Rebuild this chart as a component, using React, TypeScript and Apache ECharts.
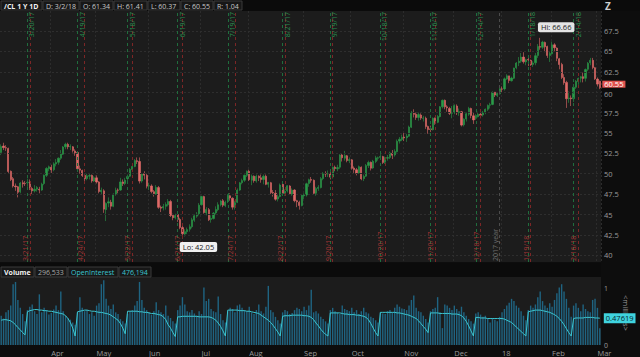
import React, { useEffect, useRef } from "react";
import * as echarts from "echarts";

// ---- data -------------------------------------------------------------
const MONTH_DAYS: [number, number, number[]][] = [
  [2017, 3, [3, 6, 7, 8, 9, 10, 13, 14, 15, 16, 17, 20, 21, 22, 23, 24, 27, 28, 29, 30, 31]],
  [2017, 4, [3, 4, 5, 6, 7, 10, 11, 12, 13, 17, 18, 19, 20, 21, 24, 25, 26, 27, 28]],
  [2017, 5, [1, 2, 3, 4, 5, 8, 9, 10, 11, 12, 15, 16, 17, 18, 19, 22, 23, 24, 25, 26, 30, 31]],
  [2017, 6, [1, 2, 5, 6, 7, 8, 9, 12, 13, 14, 15, 16, 19, 20, 21, 22, 23, 26, 27, 28, 29, 30]],
  [2017, 7, [3, 5, 6, 7, 10, 11, 12, 13, 14, 17, 18, 19, 20, 21, 24, 25, 26, 27, 28, 31]],
  [2017, 8, [1, 2, 3, 4, 7, 8, 9, 10, 11, 14, 15, 16, 17, 18, 21, 22, 23, 24, 25, 28, 29, 30, 31]],
  [2017, 9, [1, 5, 6, 7, 8, 11, 12, 13, 14, 15, 18, 19, 20, 21, 22, 25, 26, 27, 28, 29]],
  [2017, 10, [2, 3, 4, 5, 6, 9, 10, 11, 12, 13, 16, 17, 18, 19, 20, 23, 24, 25, 26, 27, 30, 31]],
  [2017, 11, [1, 2, 3, 6, 7, 8, 9, 10, 13, 14, 15, 16, 17, 20, 21, 22, 24, 27, 28, 29, 30]],
  [2017, 12, [1, 4, 5, 6, 7, 8, 11, 12, 13, 14, 15, 18, 19, 20, 21, 22, 26, 27, 28, 29]],
  [2018, 1, [2, 3, 4, 5, 8, 9, 10, 11, 12, 16, 17, 18, 19, 22, 23, 24, 25, 26, 29, 30, 31]],
  [2018, 2, [1, 2, 5, 6, 7, 8, 9, 12, 13, 14, 15, 16, 20, 21, 22, 23, 26, 27, 28]],
  [2018, 3, [1, 2]],
];

// [open, close, low, high]
const OHLC: number[][] = [
  // Mar 2017
  [52.6, 53.33, 52.3, 53.6], [53.4, 53.2, 52.9, 53.8], [53.2, 53.14, 52.8, 53.5], [53.1, 50.28, 50.1, 53.2],
  [50.3, 49.28, 49.1, 50.4], [49.4, 48.49, 48.3, 49.6], [48.5, 48.4, 47.9, 48.8], [48.4, 47.72, 47.1, 48.5],
  [47.8, 48.86, 47.6, 49.0], [48.9, 48.75, 48.3, 49.2], [48.8, 48.78, 48.5, 49.1], [48.9, 48.95, 48.4, 49.4],
  [49.0, 48.24, 48.0, 49.3], [48.2, 47.9, 47.5, 48.4], [47.9, 48.1, 47.7, 48.6], [48.1, 48.3, 47.8, 48.5],
  [48.1, 48.01, 47.6, 48.4], [48.0, 48.72, 47.9, 48.9], [48.8, 49.81, 48.6, 49.9], [49.8, 50.65, 49.6, 50.8],
  [50.6, 50.85, 50.3, 51.0],
  // Apr
  [50.8, 50.45, 50.1, 51.1], [50.5, 51.21, 50.3, 51.4], [51.2, 51.38, 50.9, 51.8], [51.4, 51.91, 51.1, 52.0],
  [51.9, 52.41, 51.7, 52.9], [52.4, 53.28, 52.3, 53.4], [53.3, 53.61, 53.0, 53.8], [53.6, 53.31, 53.0, 53.8],
  [53.3, 53.36, 52.9, 53.6], [53.3, 52.85, 52.6, 53.4], [52.8, 52.55, 52.2, 53.0], [52.6, 50.6, 50.4, 52.7],
  [50.6, 50.44, 50.0, 51.0], [50.4, 49.79, 49.6, 50.5], [49.8, 49.39, 49.1, 49.9], [49.4, 49.74, 49.2, 50.0],
  [49.7, 49.78, 49.3, 50.0], [49.8, 49.12, 48.9, 49.9], [49.1, 49.51, 49.0, 49.7],
  // May
  [49.5, 48.98, 48.8, 49.8], [49.0, 47.82, 47.6, 49.1], [47.8, 47.97, 47.4, 48.3], [47.9, 45.66, 45.2, 48.1],
  [45.6, 46.36, 44.2, 46.5], [46.4, 46.56, 45.9, 47.1], [46.5, 46.02, 45.6, 46.8], [46.0, 47.48, 45.9, 47.6],
  [47.5, 47.98, 47.3, 48.3], [48.0, 47.98, 47.6, 48.2], [48.0, 49.0, 47.9, 49.5], [49.0, 48.8, 48.5, 49.3],
  [48.8, 49.21, 48.6, 49.5], [49.4, 49.65, 49.1, 49.9], [49.7, 50.53, 49.6, 50.7], [50.5, 50.9, 50.4, 51.1],
  [50.9, 51.61, 50.8, 51.8], [51.6, 51.5, 51.2, 52.0], [51.5, 49.1, 48.8, 52.0], [49.1, 49.97, 48.9, 50.1],
  [50.0, 49.82, 49.3, 50.3], [49.8, 48.48, 48.2, 50.0],
  // Jun
  [48.5, 48.52, 48.0, 48.9], [48.5, 47.81, 47.6, 48.7], [47.8, 47.56, 47.2, 48.0], [47.5, 48.33, 47.4, 48.6],
  [48.3, 45.88, 45.7, 48.5], [45.9, 45.78, 45.3, 46.1], [45.8, 45.98, 45.5, 46.3], [46.0, 46.22, 45.6, 46.5],
  [46.2, 46.61, 46.0, 46.9], [46.6, 44.88, 44.7, 46.8], [44.9, 44.61, 44.3, 45.1], [44.6, 44.88, 44.4, 45.1],
  [45.0, 44.4, 44.1, 45.2], [44.4, 43.4, 43.2, 44.6], [43.4, 42.65, 42.05, 43.6], [42.6, 42.9, 42.3, 43.2],
  [42.9, 43.15, 42.6, 43.4], [43.2, 43.5, 42.9, 43.8], [43.5, 44.35, 43.3, 44.6], [44.3, 44.85, 44.1, 45.0],
  [44.8, 45.05, 44.6, 45.3], [45.1, 46.15, 44.9, 46.4],
  // Jul
  [46.2, 47.2, 46.1, 47.3], [47.2, 45.25, 45.1, 47.3], [45.2, 45.62, 44.9, 45.9], [45.6, 44.35, 44.2, 45.8],
  [44.4, 44.52, 44.0, 44.9], [44.5, 45.16, 44.4, 45.3], [45.2, 45.62, 45.0, 46.0], [45.6, 46.2, 45.4, 46.5],
  [46.2, 46.66, 46.0, 46.8], [46.7, 46.14, 45.9, 46.9], [46.1, 46.52, 45.9, 46.7], [46.6, 47.35, 46.4, 47.5],
  [47.3, 47.02, 46.7, 47.6], [47.0, 45.9, 45.6, 47.1], [45.9, 46.46, 45.6, 46.7], [46.5, 48.0, 46.4, 48.2],
  [48.0, 48.88, 47.9, 49.0], [48.9, 49.16, 48.7, 49.4], [49.2, 49.81, 49.0, 49.9], [49.8, 50.3, 49.6, 50.4],
  // Aug
  [50.3, 49.27, 49.1, 50.5], [49.2, 49.7, 48.6, 49.9], [49.7, 49.15, 48.9, 49.8], [49.1, 49.69, 48.9, 49.9],
  [49.7, 49.5, 49.1, 49.8], [49.5, 49.28, 48.9, 49.9], [49.3, 49.68, 48.7, 49.9], [49.7, 48.7, 48.6, 49.9],
  [48.7, 48.93, 48.3, 49.0], [48.9, 47.69, 47.5, 49.0], [47.7, 47.65, 47.2, 48.0], [47.6, 46.88, 46.7, 48.0],
  [46.9, 47.19, 46.6, 47.4], [47.2, 48.61, 47.1, 48.8], [48.7, 47.6, 47.4, 48.9], [47.6, 47.86, 47.3, 48.1],
  [47.9, 48.53, 47.7, 48.6], [48.5, 47.55, 47.4, 48.6], [47.5, 47.99, 47.3, 48.2], [48.0, 46.7, 46.5, 48.1],
  [46.7, 46.56, 45.9, 46.8], [46.5, 46.1, 45.6, 46.7], [46.1, 47.35, 46.0, 47.5],
  // Sep
  [47.3, 47.4, 46.9, 47.6], [47.4, 48.77, 47.2, 48.9], [48.8, 49.27, 48.4, 49.4], [49.3, 49.2, 48.9, 49.6],
  [49.2, 47.6, 47.4, 49.3], [47.6, 48.18, 47.3, 48.4], [48.2, 48.34, 47.9, 48.6], [48.3, 49.4, 48.2, 49.6],
  [49.4, 49.99, 49.2, 50.2], [50.0, 49.98, 49.6, 50.3], [50.0, 50.0, 49.6, 50.4], [50.0, 49.58, 49.3, 50.2],
  [49.6, 50.78, 49.4, 50.9], [50.8, 50.64, 50.3, 51.0], [50.6, 50.75, 50.3, 51.1], [50.8, 52.3, 50.6, 52.4],
  [52.3, 51.96, 51.5, 52.5], [51.9, 52.22, 51.6, 52.8], [52.2, 51.62, 51.4, 52.3], [51.6, 51.74, 51.3, 52.0],
  // Oct
  [51.7, 50.66, 50.5, 51.8], [50.7, 50.5, 50.1, 50.9], [50.5, 50.06, 49.8, 50.7], [50.1, 50.87, 50.0, 51.0],
  [50.8, 49.37, 49.2, 50.9], [49.4, 49.66, 49.1, 49.9], [49.7, 51.0, 49.6, 51.2], [51.0, 51.38, 50.7, 51.6],
  [51.4, 50.68, 50.4, 51.5], [50.7, 51.53, 50.6, 51.7], [51.5, 51.95, 51.3, 52.2], [51.9, 51.96, 51.6, 52.1],
  [52.0, 52.12, 51.7, 52.4], [52.1, 51.37, 51.2, 52.2], [51.4, 51.92, 51.2, 52.1], [51.9, 51.98, 51.6, 52.3],
  [52.0, 52.55, 51.8, 52.7], [52.5, 52.26, 51.8, 52.9], [52.3, 52.72, 52.1, 53.0], [52.7, 53.98, 52.6, 54.2],
  [54.0, 54.23, 53.7, 54.5], [54.2, 54.46, 54.0, 54.8],
  // Nov
  [54.5, 54.38, 54.0, 55.0], [54.4, 54.62, 53.9, 54.9], [54.6, 55.72, 54.5, 55.9], [55.7, 57.43, 55.6, 57.7],
  [57.4, 57.28, 56.9, 57.9], [57.3, 56.89, 56.6, 57.5], [56.9, 57.25, 56.5, 57.5], [57.2, 56.82, 56.6, 57.4],
  [56.8, 56.84, 56.4, 57.1], [56.8, 55.78, 55.5, 57.0], [55.8, 55.41, 54.9, 55.9], [55.5, 55.42, 55.1, 55.9],
  [55.4, 56.79, 55.3, 56.9], [56.8, 56.28, 56.0, 56.9], [56.3, 57.02, 56.2, 57.2], [57.0, 58.2, 56.9, 58.3],
  [58.2, 59.0, 58.0, 59.1], [59.0, 58.2, 57.9, 59.1], [58.2, 58.08, 57.6, 58.4], [58.0, 57.4, 57.2, 58.2],
  [57.4, 57.5, 56.8, 58.3],
  // Dec
  [57.5, 58.36, 57.3, 58.5], [58.3, 57.47, 57.2, 58.5], [57.5, 57.62, 57.1, 58.0], [57.6, 55.96, 55.8, 57.7],
  [56.0, 56.69, 55.8, 56.8], [56.7, 57.36, 56.4, 57.5], [57.3, 57.99, 57.1, 58.2], [58.0, 57.14, 56.8, 58.1],
  [57.1, 56.6, 56.1, 57.5], [56.8, 57.04, 56.6, 57.3], [57.0, 57.3, 56.9, 57.6], [57.3, 57.16, 56.8, 57.6],
  [57.2, 57.46, 57.0, 57.7], [57.5, 57.9, 57.3, 58.0], [57.9, 58.36, 57.7, 58.5], [58.4, 58.47, 58.0, 58.7],
  [58.5, 59.97, 58.4, 60.1], [60.0, 59.64, 59.4, 60.0], [59.6, 59.84, 59.4, 60.0], [59.8, 60.42, 59.7, 60.5],
  // Jan 2018
  [60.4, 60.37, 59.9, 60.7], [60.4, 61.63, 60.2, 61.8], [61.6, 62.01, 61.5, 62.2], [62.0, 61.44, 61.1, 62.0],
  [61.4, 61.73, 61.3, 61.9], [61.7, 62.96, 61.6, 63.0], [63.0, 63.57, 62.8, 63.7], [63.6, 63.8, 63.2, 64.3],
  [63.8, 64.3, 63.6, 64.8], [64.3, 63.73, 63.5, 64.9], [63.7, 63.97, 63.3, 64.1], [64.0, 63.95, 63.2, 64.2],
  [63.9, 63.37, 63.2, 64.0], [63.4, 63.57, 63.1, 63.8], [63.6, 64.47, 63.3, 64.8], [64.5, 65.61, 64.2, 65.9],
  [65.6, 65.51, 65.2, 66.66], [65.5, 66.14, 65.3, 66.3], [66.1, 65.56, 64.9, 66.2], [65.6, 64.5, 64.2, 65.7],
  [64.5, 64.73, 63.7, 65.0],
  // Feb
  [64.7, 65.8, 64.6, 66.2], [65.8, 65.45, 65.0, 66.0], [65.4, 64.15, 63.8, 65.5], [64.1, 63.39, 62.8, 64.2],
  [63.4, 61.79, 61.6, 63.6], [61.8, 61.15, 60.9, 62.2], [61.2, 59.2, 58.07, 61.4], [59.2, 59.29, 58.7, 60.1],
  [59.3, 59.19, 58.3, 59.6], [59.2, 60.6, 58.8, 61.0], [60.6, 61.34, 60.4, 61.5], [61.3, 61.68, 60.9, 61.8],
  [61.7, 61.9, 61.2, 62.0], [61.9, 61.68, 61.2, 62.4], [61.7, 62.77, 61.3, 62.9], [62.8, 63.55, 62.6, 63.7],
  [63.6, 63.91, 63.3, 64.2], [63.9, 63.01, 62.8, 64.2], [63.0, 61.64, 61.5, 63.1],
  // Mar 2018
  [61.6, 60.99, 60.7, 61.8], [61.34, 60.55, 60.37, 61.41],
];

// volume, millions of contracts
const VOLUME: number[] = [
  0.52, 0.47, 0.58, 0.62, 0.7, 1.08, 1.12, 0.8, 0.66, 0.55, 0.42,
  0.62, 0.68, 0.72, 0.6, 0.55, 0.9, 0.58, 0.66, 0.62, 0.54, 0.57, 0.63, 0.7, 0.62, 0.95, 0.6, 0.52, 0.48, 0.45, 0.4, 0.36,
  0.58, 0.85, 0.66, 0.6, 0.62, 0.55, 0.58, 0.52, 0.7, 0.74, 1.08, 1.15, 0.82, 0.7, 0.64, 0.72, 0.58, 0.55, 0.46, 0.42, 0.38,
  0.55, 0.6, 0.62, 0.7, 0.78, 1.12, 0.8, 0.66, 0.62, 0.58, 0.54, 0.6, 0.76, 0.62, 0.58, 0.55, 0.7, 0.52, 0.48, 0.42, 0.38,
  0.62, 0.7, 0.85, 0.72, 0.6, 0.58, 0.62, 0.56, 0.52, 0.6, 0.55, 1.02, 0.78, 0.82, 0.64, 0.6, 0.58, 0.86, 0.55, 0.44, 0.4,
  0.6, 0.66, 0.64, 0.58, 0.7, 0.72, 0.66, 0.62, 0.6, 0.68, 0.58, 0.55, 0.62, 0.72, 0.6, 0.56, 0.68, 1.05, 0.62, 0.58, 0.5, 0.44, 0.38,
  0.58, 0.62, 0.6, 0.55, 0.57, 0.62, 0.66, 0.64, 0.6, 0.68, 0.62, 0.7, 0.98, 0.58, 0.6, 0.56, 0.5, 0.46, 0.42, 0.38,
  0.62, 0.66, 0.6, 0.58, 0.55, 0.7, 0.64, 0.62, 0.6, 0.66, 0.58, 0.62, 0.55, 0.6, 0.66, 0.58, 0.56, 0.5, 0.48, 0.44, 0.4,
  0.58, 0.56, 0.55, 0.6, 0.62, 0.58, 0.66, 0.72, 0.68, 0.65, 0.64, 0.62, 0.7, 0.8, 0.88, 0.66, 0.6, 0.58, 0.52, 0.46, 0.4,
  0.6, 0.64, 0.66, 0.85, 0.58, 0.3, 0.72, 0.7, 0.66, 0.62, 0.7, 0.64, 0.6, 0.68, 0.58, 0.52, 0.46, 0.42, 0.38,
  0.56, 0.58, 0.54, 0.5, 0.52, 0.46, 0.4, 0.48, 0.45, 0.42, 0.5, 0.58, 0.64, 0.7, 0.75, 0.82, 0.78, 0.7, 0.66, 0.6, 0.52, 0.44,
  0.62, 0.7, 0.66, 0.72, 0.85, 0.95, 0.78, 0.7, 0.66, 0.74, 0.68, 0.8, 0.92, 1.02, 1.08, 0.95, 0.82, 0.66, 0.5,
  0.7, 0.74, 0.66, 0.6, 0.72, 0.64, 0.6, 0.58, 0.8, 0.82, 0.66, 0.296533,
];

// open interest, millions of contracts
const OPEN_INTEREST: number[] = [
  0.44, 0.45, 0.45, 0.44, 0.43, 0.4, 0.36, 0.31, 0.27, 0.22, 0.18,
  0.59, 0.61, 0.62, 0.63, 0.63, 0.62, 0.62, 0.61, 0.61, 0.6, 0.6, 0.59, 0.58, 0.57, 0.56, 0.55, 0.52, 0.47, 0.4, 0.3, 0.16,
  0.59, 0.6, 0.61, 0.62, 0.62, 0.61, 0.6, 0.6, 0.59, 0.58, 0.58, 0.57, 0.56, 0.55, 0.53, 0.5, 0.47, 0.44, 0.38, 0.3, 0.2,
  0.6, 0.6, 0.6, 0.6, 0.6, 0.59, 0.59, 0.58, 0.58, 0.57, 0.56, 0.56, 0.55, 0.54, 0.53, 0.5, 0.45, 0.36, 0.3, 0.22, 0.15,
  0.5, 0.5, 0.51, 0.51, 0.51, 0.51, 0.51, 0.51, 0.51, 0.5, 0.5, 0.5, 0.5, 0.5, 0.49, 0.47, 0.44, 0.39, 0.33, 0.25, 0.16,
  0.62, 0.62, 0.62, 0.62, 0.62, 0.61, 0.61, 0.61, 0.6, 0.6, 0.59, 0.58, 0.57, 0.56, 0.53, 0.5, 0.47, 0.44, 0.4, 0.35, 0.29, 0.23, 0.16,
  0.51, 0.52, 0.52, 0.52, 0.53, 0.53, 0.53, 0.53, 0.53, 0.52, 0.52, 0.51, 0.49, 0.45, 0.39, 0.34, 0.28, 0.23, 0.19, 0.16,
  0.57, 0.57, 0.57, 0.57, 0.57, 0.56, 0.55, 0.55, 0.54, 0.54, 0.54, 0.53, 0.53, 0.52, 0.51, 0.49, 0.45, 0.38, 0.3, 0.22, 0.16,
  0.58, 0.58, 0.58, 0.58, 0.58, 0.58, 0.58, 0.57, 0.57, 0.56, 0.55, 0.54, 0.53, 0.51, 0.49, 0.47, 0.43, 0.38, 0.33, 0.28, 0.22,
  0.57, 0.57, 0.57, 0.57, 0.56, 0.56, 0.56, 0.56, 0.56, 0.55, 0.55, 0.55, 0.54, 0.52, 0.48, 0.42, 0.34, 0.25, 0.16,
  0.49, 0.49, 0.48, 0.48, 0.48, 0.47, 0.47, 0.47, 0.47, 0.47, 0.47, 0.47, 0.46, 0.44, 0.42, 0.4, 0.36, 0.32, 0.28, 0.24, 0.2, 0.16,
  0.59, 0.6, 0.61, 0.62, 0.62, 0.62, 0.61, 0.6, 0.59, 0.58, 0.56, 0.54, 0.51, 0.47, 0.42, 0.36, 0.29, 0.22, 0.16,
  0.47, 0.48, 0.48, 0.48, 0.48, 0.49, 0.49, 0.49, 0.49, 0.48, 0.48, 0.476194,
];

const PRICE_TICKS = [40, 42.5, 45, 47.5, 50, 52.5, 55, 57.5, 60, 62.5, 65, 67.5];
const VOLUME_TICKS = [0, 1];
const ROLL_INDEX = [11, 32, 53, 74, 95, 118, 138, 159, 180, 199, 221, 240];
const EXPIRY_INDEX = [12, 35, 55, 76, 98, 119, 139, 161, 182, 201, 222, 242];
const YEAR_INDEX = 209;
const YEAR_LABEL = "2017 year";
const SYMBOL = "/CL 1 Y 1D";
const MONTH_ABBR = ["Jan", "Feb", "Mar", "Apr", "May", "Jun", "Jul", "Aug", "Sep", "Oct", "Nov", "Dec"];

// ---- derived ----------------------------------------------------------
const DATES: string[] = MONTH_DAYS.flatMap(([y, m, days]) => days.map((d) => `${m}/${d}/${y % 100}`));
const monthOf = (s: string) => parseInt(s.split("/")[0], 10);
const MONTH_START = new Set<number>(
  DATES.map((d, i) => (i > 0 && monthOf(d) !== monthOf(DATES[i - 1]) ? i : -1)).filter((i) => i >= 0)
);
const monthLabel = (s: string) => {
  const [m, , y] = s.split("/");
  const mi = parseInt(m, 10);
  return mi === 1 ? y : MONTH_ABBR[mi - 1];
};
const LAST = OHLC.length - 1;
const LAST_BAR = OHLC[LAST];
const fmtInt = (v: number) => Math.round(v * 1e6).toLocaleString("en-US");

const FONT = '"Open Sans", "Noto Sans", sans-serif';
const UP = "#2a9a48";
const DOWN = "#e06a68";
const HFS = 7;

let measureCtx: CanvasRenderingContext2D | null = null;
function textWidth(text: string, bold: boolean) {
  if (!measureCtx) measureCtx = document.createElement("canvas").getContext("2d");
  if (!measureCtx) return text.length * 4;
  measureCtx.font = `${bold ? "bold " : ""}${HFS}px "Open Sans"`;
  return measureCtx.measureText(text).width;
}

type HeaderItem = { text: string; color: string; bold?: boolean };
function headerRow(x0: number, y: number, h: number, items: HeaderItem[]) {
  const out: any[] = [];
  let x = x0;
  for (const it of items) {
    const w = Math.ceil(textWidth(it.text, !!it.bold)) + 6;
    out.push({ type: "rect", shape: { x, y, width: w, height: h }, style: { fill: "#171717", stroke: "#3a3a3a", lineWidth: 1 } });
    out.push({
      type: "text",
      x: x + 3,
      y: y + h / 2 + 0.5,
      style: { text: it.text, fill: it.color, fontSize: HFS, fontWeight: it.bold ? "bold" : "normal", fontFamily: FONT, verticalAlign: "middle" },
    });
    x += w + 1;
  }
  return out;
}

export default function App() {
  const ref = useRef<HTMLDivElement>(null);
  useEffect(() => {
    if (!ref.current) return;
    const chart = echarts.init(ref.current, null, { renderer: "svg" });
    const option: any = {
      animation: false,
      backgroundColor: "#0d0d0d",
      textStyle: { fontFamily: FONT },
      grid: [
        { left: 0, right: 39, top: 11, height: 251, show: true, backgroundColor: "#1c1c1c", borderWidth: 0 },
        { left: 0, right: 39, top: 277, height: 68, show: true, backgroundColor: "#1c1c1c", borderWidth: 0 },
      ],
      xAxis: [
        {
          type: "category",
          gridIndex: 0,
          data: DATES,
          boundaryGap: true,
          axisLine: { show: false },
          axisTick: { show: false },
          axisLabel: { show: false },
          splitLine: {
            show: true,
            interval: (i: number) => MONTH_START.has(i),
            lineStyle: { color: "#2c2c2c", type: [2, 2], width: 1 },
          },
        },
        {
          type: "category",
          gridIndex: 1,
          data: DATES,
          boundaryGap: true,
          axisLine: { show: false },
          axisTick: { show: false },
          axisLabel: {
            show: true,
            interval: (i: number) => MONTH_START.has(i),
            formatter: (v: string) => monthLabel(v),
            color: "#9a9a9a",
            fontSize: 7.5,
            align: "left",
            margin: 4,
            fontFamily: FONT,
          },
          splitLine: { show: false },
        },
      ],
      yAxis: [
        {
          type: "value",
          gridIndex: 0,
          position: "right",
          min: 39.18,
          max: 69.95,
          axisLine: { show: false },
          axisTick: { show: false },
          axisLabel: { show: false },
          splitLine: { show: false },
        },
        {
          type: "value",
          gridIndex: 1,
          position: "right",
          min: 0,
          max: 1.208,
          interval: 1,
          axisLine: { show: false },
          axisTick: { show: false },
          axisLabel: {
            show: true,
            color: "#9a9a9a",
            fontSize: 7,
            margin: 3,
            fontFamily: FONT,
            formatter: (v: number) => (VOLUME_TICKS.includes(v) ? String(v) : ""),
          },
          splitLine: { show: false },
        },
      ],
      series: [
        {
          name: "/CL",
          type: "candlestick",
          xAxisIndex: 0,
          yAxisIndex: 0,
          data: OHLC,
          barWidth: 1.7,
          silent: true,
          itemStyle: { color: UP, color0: DOWN, borderColor: UP, borderColor0: DOWN, borderWidth: 0.6 },
          markLine: {
            silent: true,
            symbol: ["none", "none"],
            animation: false,
            data: [
              ...PRICE_TICKS.map((v) => ({
                yAxis: v,
                lineStyle: { color: "#2e2e2e", type: [2, 2], width: 1 },
                label: {
                  show: true,
                  position: "end",
                  formatter: String(v),
                  color: "#9a9a9a",
                  fontSize: 7.5,
                  lineHeight: 7,
                  distance: 3,
                  offset: Math.abs(v - LAST_BAR[1]) < 1.5 ? [0, 1.5] : [0, 0],
                  fontFamily: FONT,
                },
              })),
              ...ROLL_INDEX.map((i) => ({
                xAxis: DATES[i],
                lineStyle: { color: "#1f6e3d", type: [3, 3], width: 1 },
                label: { show: true, position: "insideEndBottom", formatter: DATES[i], color: "#2a8c4e", fontSize: 7, distance: 1, fontFamily: FONT },
              })),
              ...EXPIRY_INDEX.map((i) => ({
                xAxis: DATES[i],
                lineStyle: { color: "#7c2626", type: [3, 3], width: 1 },
                label: { show: true, position: "insideStartTop", formatter: DATES[i], color: "#a03434", fontSize: 7, distance: 1, fontFamily: FONT },
              })),
              {
                xAxis: DATES[YEAR_INDEX],
                lineStyle: { color: "#4c4c4c", type: [3, 3], width: 1 },
                label: { show: true, position: "insideStartTop", formatter: YEAR_LABEL, color: "#707070", fontSize: 7, distance: 1, fontFamily: FONT },
              },
            ],
          },
          markPoint: {
            silent: true,
            symbol: "circle",
            symbolSize: 1,
            itemStyle: { color: "rgba(0,0,0,0)" },
            data: [
              {
                type: "max",
                valueDim: "highest",
                label: {
                  show: true,
                  position: "top",
                  offset: [16, 0],
                  formatter: (p: any) => `Hi: ${p.value}`,
                  backgroundColor: "#e4e4e4",
                  color: "#222",
                  fontSize: 7.5,
                  padding: [1, 3],
                  borderRadius: 2,
                  fontFamily: FONT,
                },
              },
              {
                type: "min",
                valueDim: "lowest",
                label: {
                  show: true,
                  position: "bottom",
                  offset: [16, -2],
                  formatter: (p: any) => `Lo: ${p.value}`,
                  backgroundColor: "#f0f0f0",
                  color: "#222",
                  fontSize: 7.5,
                  padding: [1, 3],
                  borderRadius: 2,
                  fontFamily: FONT,
                },
              },
              {
                coord: [DATES[LAST], LAST_BAR[1]],
                value: LAST_BAR[1],
                label: {
                  show: true,
                  position: "right",
                  distance: 2,
                  offset: [0, -3.5],
                  formatter: LAST_BAR[1].toFixed(2),
                  backgroundColor: "#e0534f",
                  color: "#fff",
                  fontSize: 7.5,
                  lineHeight: 7,
                  padding: [0, 2],
                  fontFamily: FONT,
                },
              },
            ],
          },
        },
        {
          name: "Volume",
          type: "bar",
          xAxisIndex: 1,
          yAxisIndex: 1,
          data: VOLUME,
          barWidth: 1.4,
          silent: true,
          itemStyle: { color: "#1f6482" },
        },
        {
          name: "OpenInterest",
          type: "line",
          xAxisIndex: 1,
          yAxisIndex: 1,
          data: OPEN_INTEREST,
          showSymbol: false,
          silent: true,
          lineStyle: { color: "#3cc6d0", width: 1 },
          endLabel: {
            show: true,
            formatter: (p: any) => Number(Array.isArray(p.value) ? p.value[1] : p.value).toFixed(5),
            backgroundColor: "#3fd3de",
            color: "#06282d",
            fontSize: 7.5,
            padding: [1, 2],
            distance: 4,
            fontFamily: FONT,
          },
        },
      ],
      graphic: [
        { type: "rect", shape: { x: 0, y: 0, width: 640, height: 11 }, style: { fill: "#0b0b0b" } },
        ...headerRow(1, 1, 9, [
          { text: SYMBOL, color: "#f2f2f2", bold: true },
          { text: `D: ${DATES[LAST]}`, color: "#c8c8c8" },
          { text: `O: ${LAST_BAR[0].toFixed(2)}`, color: "#c8c8c8" },
          { text: `H: ${LAST_BAR[3].toFixed(2)}`, color: "#c8c8c8" },
          { text: `L: ${LAST_BAR[2].toFixed(2)}`, color: "#c8c8c8" },
          { text: `C: ${LAST_BAR[1].toFixed(2)}`, color: "#c8c8c8" },
          { text: `R: ${(LAST_BAR[3] - LAST_BAR[2]).toFixed(2)}`, color: "#c8c8c8" },
        ]),
        {
          type: "text",
          x: 605,
          y: 1,
          style: { text: "Z", fill: "#cfcfcf", fontSize: 10, fontWeight: "bold", fontFamily: FONT },
        },
        { type: "rect", shape: { x: 0, y: 263, width: 601, height: 14 }, style: { fill: "#0b0b0b" } },
        ...headerRow(1, 267, 10, [
          { text: "Volume", color: "#f2f2f2", bold: true },
          { text: fmtInt(VOLUME[LAST]), color: "#a8a8a8" },
          { text: "OpenInterest", color: "#3cc6d0" },
          { text: fmtInt(OPEN_INTEREST[LAST]), color: "#3cc6d0" },
        ]),
        {
          type: "text",
          x: 630,
          y: 295,
          rotation: -Math.PI / 2,
          style: { text: "<millions>", fill: "#9a9a9a", fontSize: 7.5, fontFamily: FONT },
        },
      ],
    };
    chart.setOption(option);
    return () => chart.dispose();
  }, []);
  return <div ref={ref} style={{ position: "fixed", left: 0, top: 0, width: 640, height: 357 }} />;
}
